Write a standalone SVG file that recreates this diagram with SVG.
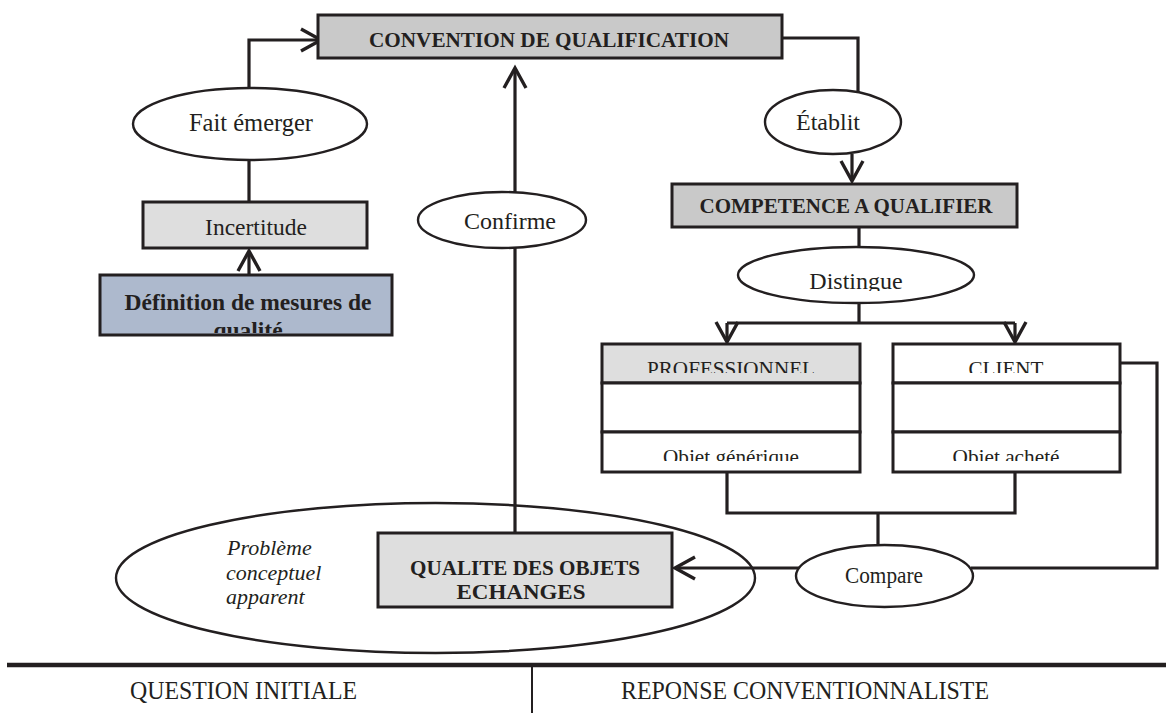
<svg xmlns="http://www.w3.org/2000/svg" width="1166" height="713" viewBox="0 0 1166 713">
  <style>
    .ln { fill: none; stroke: #231f20; stroke-width: 3.2; }
    .box { stroke: #231f20; stroke-width: 3; }
    .ell { fill: #ffffff; stroke: #231f20; stroke-width: 2.4; }
    .mid { fill: #c9c9c9; }
    .light { fill: #dedede; }
    .blue { fill: #adb9cd; }
    .white { fill: #ffffff; }
    text { font-family: "Liberation Serif", "Times New Roman", serif; fill: #231f20; }
    .b { font-weight: bold; }
    .c { text-anchor: middle; }
    .i { font-style: italic; }
  </style>
  <defs>
    <marker id="chev" viewBox="-24 -14 28 28" refX="0" refY="0" markerWidth="28" markerHeight="28" markerUnits="userSpaceOnUse" orient="auto">
      <path d="M-20,-11 L0,0 L-20,11" fill="none" stroke="#231f20" stroke-width="3.4"/>
    </marker>
    <clipPath id="clipDef"><rect x="101" y="276" width="290" height="57"/></clipPath>
    <clipPath id="clipHead"><rect x="590" y="340" width="560" height="33"/></clipPath>
    <clipPath id="clipFoot"><rect x="590" y="433" width="560" height="28"/></clipPath>
    <clipPath id="clipDist"><rect x="730" y="245" width="250" height="46"/></clipPath>
  </defs>

  <rect width="1166" height="713" fill="#ffffff"/>

  <!-- connectors -->
  <g id="connectors">
    <path class="ln" d="M249,88 V40 H321" marker-end="url(#chev)"/>
    <path class="ln" d="M249,202 V160"/>
    <path class="ln" d="M249,275 V251" marker-end="url(#chev)"/>
    <path class="ln" d="M515,192 V68" marker-end="url(#chev)"/>
    <path class="ln" d="M515,533 V248"/>
    <path class="ln" d="M782,38 H858 V92"/>
    <path class="ln" d="M852,154 V181" marker-end="url(#chev)"/>
    <path class="ln" d="M859,227 V247"/>
    <path class="ln" d="M859,303 V323"/>
    <path class="ln" d="M727,323 H1015"/>
    <path class="ln" d="M727,323 V342" marker-end="url(#chev)"/>
    <path class="ln" d="M1015,323 V342" marker-end="url(#chev)"/>
    <path class="ln" d="M727,472 V513 H1015 V472"/>
    <path class="ln" d="M878,513 V545"/>
    <path class="ln" d="M799,568 H675" marker-end="url(#chev)"/>
    <path class="ln" d="M971,568 H1157 V363 H1120"/>
  </g>

  <!-- top: convention -->
  <g id="convention">
    <rect class="box mid" x="318" y="15" width="464" height="43"/>
    <text class="b c" x="549" y="47" font-size="22" textLength="360" lengthAdjust="spacingAndGlyphs">CONVENTION DE QUALIFICATION</text>
  </g>

  <g id="fait-emerger">
    <ellipse class="ell" cx="250" cy="124" rx="117" ry="36"/>
    <text class="c" x="251" y="131" font-size="24.5">Fait émerger</text>
  </g>

  <g id="incertitude">
    <rect class="box light" x="143" y="202" width="224" height="46"/>
    <text class="c" x="256" y="235" font-size="23.5">Incertitude</text>
  </g>

  <g id="definition">
    <rect class="box blue" x="100" y="275" width="292" height="60"/>
    <g clip-path="url(#clipDef)">
      <text class="b c" x="248" y="310" font-size="23.5" textLength="247" lengthAdjust="spacingAndGlyphs">Définition de mesures de</text>
      <text class="b c" x="248" y="338" font-size="23.5">qualité</text>
    </g>
  </g>

  <g id="confirme">
    <ellipse class="ell" cx="502" cy="220" rx="84" ry="28"/>
    <text class="c" x="510" y="229" font-size="24">Confirme</text>
  </g>

  <g id="etablit">
    <ellipse class="ell" cx="833" cy="122" rx="68" ry="32"/>
    <text class="c" x="828" y="130" font-size="24">Établit</text>
  </g>

  <g id="competence">
    <rect class="box mid" x="672" y="184" width="345" height="43"/>
    <text class="b c" x="846" y="213" font-size="22" textLength="293" lengthAdjust="spacingAndGlyphs">COMPETENCE A QUALIFIER</text>
  </g>

  <g id="distingue">
    <ellipse class="ell" cx="856" cy="275" rx="118" ry="28"/>
    <text class="c" x="856" y="289" font-size="24" clip-path="url(#clipDist)">Distingue</text>
  </g>

  <g id="professionnel">
    <rect class="box light" x="602" y="344" width="258" height="39"/>
    <rect class="box white" x="602" y="383" width="258" height="49"/>
    <rect class="box white" x="602" y="432" width="258" height="40"/>
    <text class="c" x="731" y="376" font-size="21" textLength="168" lengthAdjust="spacingAndGlyphs" clip-path="url(#clipHead)">PROFESSIONNEL</text>
    <text class="c" x="731" y="464" font-size="21" textLength="136" lengthAdjust="spacingAndGlyphs" clip-path="url(#clipFoot)">Objet générique</text>
  </g>

  <g id="client">
    <rect class="box white" x="893" y="344" width="227" height="39"/>
    <rect class="box white" x="893" y="383" width="227" height="49"/>
    <rect class="box white" x="893" y="432" width="227" height="40"/>
    <text class="c" x="1006" y="376" font-size="21" textLength="75" lengthAdjust="spacingAndGlyphs" clip-path="url(#clipHead)">CLIENT</text>
    <text class="c" x="1006" y="464" font-size="21" textLength="107" lengthAdjust="spacingAndGlyphs" clip-path="url(#clipFoot)">Objet acheté</text>
  </g>

  <g id="probleme">
    <ellipse cx="435.5" cy="578" rx="319.5" ry="75" fill="none" stroke="#231f20" stroke-width="2.4"/>
    <text class="i" x="227" y="555" font-size="22">Problème</text>
    <text class="i" x="226" y="580" font-size="22">conceptuel</text>
    <text class="i" x="226" y="604" font-size="22">apparent</text>
  </g>

  <g id="qualite">
    <rect class="box light" x="378" y="533" width="294" height="74"/>
    <text class="b c" x="525" y="575" font-size="22" textLength="230" lengthAdjust="spacingAndGlyphs">QUALITE DES OBJETS</text>
    <text class="b c" x="521" y="599" font-size="22" textLength="129" lengthAdjust="spacingAndGlyphs">ECHANGES</text>
  </g>

  <g id="compare">
    <ellipse class="ell" cx="884.5" cy="576" rx="88.5" ry="31"/>
    <text class="c" x="884" y="583" font-size="23" textLength="78" lengthAdjust="spacingAndGlyphs">Compare</text>
  </g>

  <!-- bottom band -->
  <g id="footer">
    <line x1="7" y1="665" x2="1166" y2="665" stroke="#231f20" stroke-width="4.5"/>
    <line x1="532" y1="667" x2="532" y2="713" stroke="#231f20" stroke-width="2"/>
    <text x="130" y="699" font-size="25" textLength="227" lengthAdjust="spacingAndGlyphs">QUESTION INITIALE</text>
    <text x="621" y="699" font-size="25" textLength="368" lengthAdjust="spacingAndGlyphs">REPONSE CONVENTIONNALISTE</text>
  </g>
</svg>
